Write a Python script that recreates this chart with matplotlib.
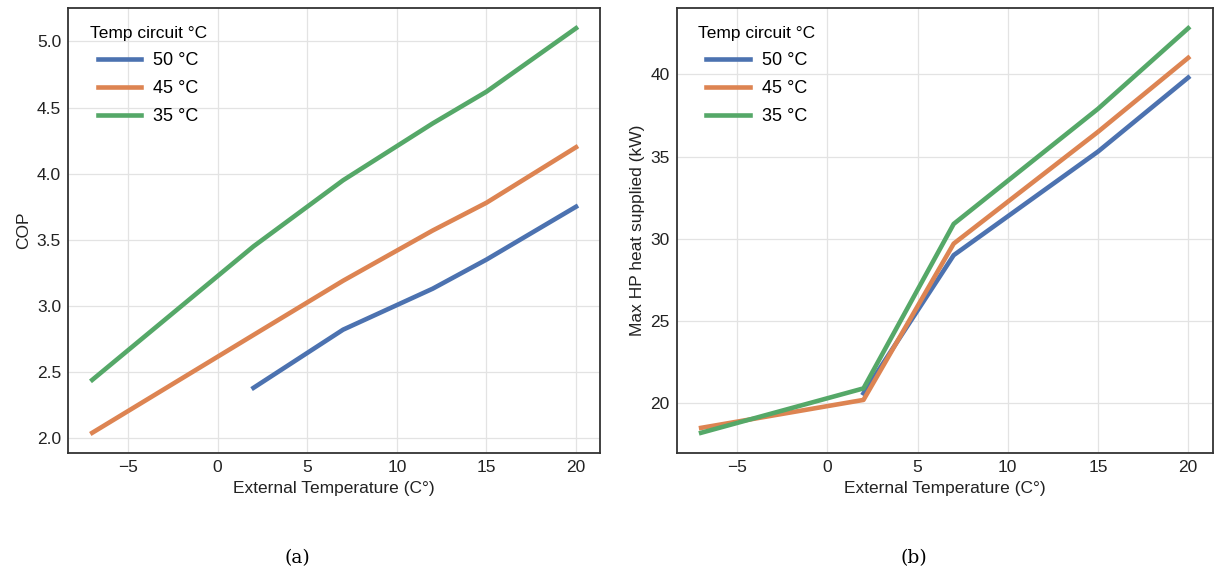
import matplotlib
matplotlib.use("Agg")
import matplotlib.pyplot as plt

# 외부 온도
x_ext = [-7, 2, 7, 12, 15, 20]
x_ext_50 = [2, 7, 12, 15, 20]

# COP
cop_50 = [2.38, 2.82, 3.13, 3.35, 3.75]
cop_45 = [2.04, 2.78, 3.19, 3.57, 3.78, 4.20]
cop_35 = [2.44, 3.45, 3.95, 4.38, 4.62, 5.10]

# Max HP heat supplied (kW)
heat_x = [-7, 2, 7, 15, 20]
heat_x_50 = [2, 7, 15, 20]
heat_50 = [20.6, 29.0, 35.3, 39.8]
heat_45 = [18.5, 20.2, 29.7, 36.5, 41.0]
heat_35 = [18.2, 20.9, 30.9, 37.9, 42.8]

labels = ["50 °C", "45 °C", "35 °C"]
colors = ["#4C72B0", "#DD8452", "#55A868"]

plt.rcParams['font.family'] = ['Liberation Sans', 'DejaVu Sans']

fig = plt.figure(figsize=(12.15, 5.76), dpi=100)
ax1 = fig.add_axes([0.056, 0.2135, 0.438, 0.7726])
ax2 = fig.add_axes([0.557, 0.2135, 0.441, 0.7726])


def style(ax):
    ax.set_facecolor("white")
    ax.grid(True, color="#e3e3e3", linewidth=0.9)
    ax.set_axisbelow(True)
    for s in ax.spines.values():
        s.set_color("#333333")
        s.set_linewidth(1.3)
    ax.tick_params(length=0, pad=5, labelsize=12.5, colors="#222222")
    leg = ax.legend(title="Temp circuit °C", loc="upper left", frameon=False,
                    fontsize=13, title_fontsize=12.5, handlelength=2.4,
                    handletextpad=0.7, labelspacing=0.6,
                    bbox_to_anchor=(0.01, 0.995))
    return leg


ax1.plot(x_ext_50, cop_50, color=colors[0], lw=3.3, label=labels[0])
ax1.plot(x_ext, cop_45, color=colors[1], lw=3.3, label=labels[1])
ax1.plot(x_ext, cop_35, color=colors[2], lw=3.3, label=labels[2])
ax1.set_xlabel("External Temperature (C°)", fontsize=12.5, color="#222222")
ax1.set_ylabel("COP", fontsize=12.5, color="#222222")
ax1.set_yticks([2.0, 2.5, 3.0, 3.5, 4.0, 4.5, 5.0])
style(ax1)

ax2.plot(heat_x_50, heat_50, color=colors[0], lw=3.3, label=labels[0])
ax2.plot(heat_x, heat_45, color=colors[1], lw=3.3, label=labels[1])
ax2.plot(heat_x, heat_35, color=colors[2], lw=3.3, label=labels[2])
ax2.set_xlabel("External Temperature (C°)", fontsize=12.5, color="#222222")
ax2.set_ylabel("Max HP heat supplied (kW)", fontsize=12.5, color="#222222")
style(ax2)

fig.text(0.245, 0.022, "(a)", fontsize=13.5, family="DejaVu Serif", ha="center")
fig.text(0.752, 0.022, "(b)", fontsize=13.5, family="DejaVu Serif", ha="center")

fig.savefig("out.png", dpi=100)
